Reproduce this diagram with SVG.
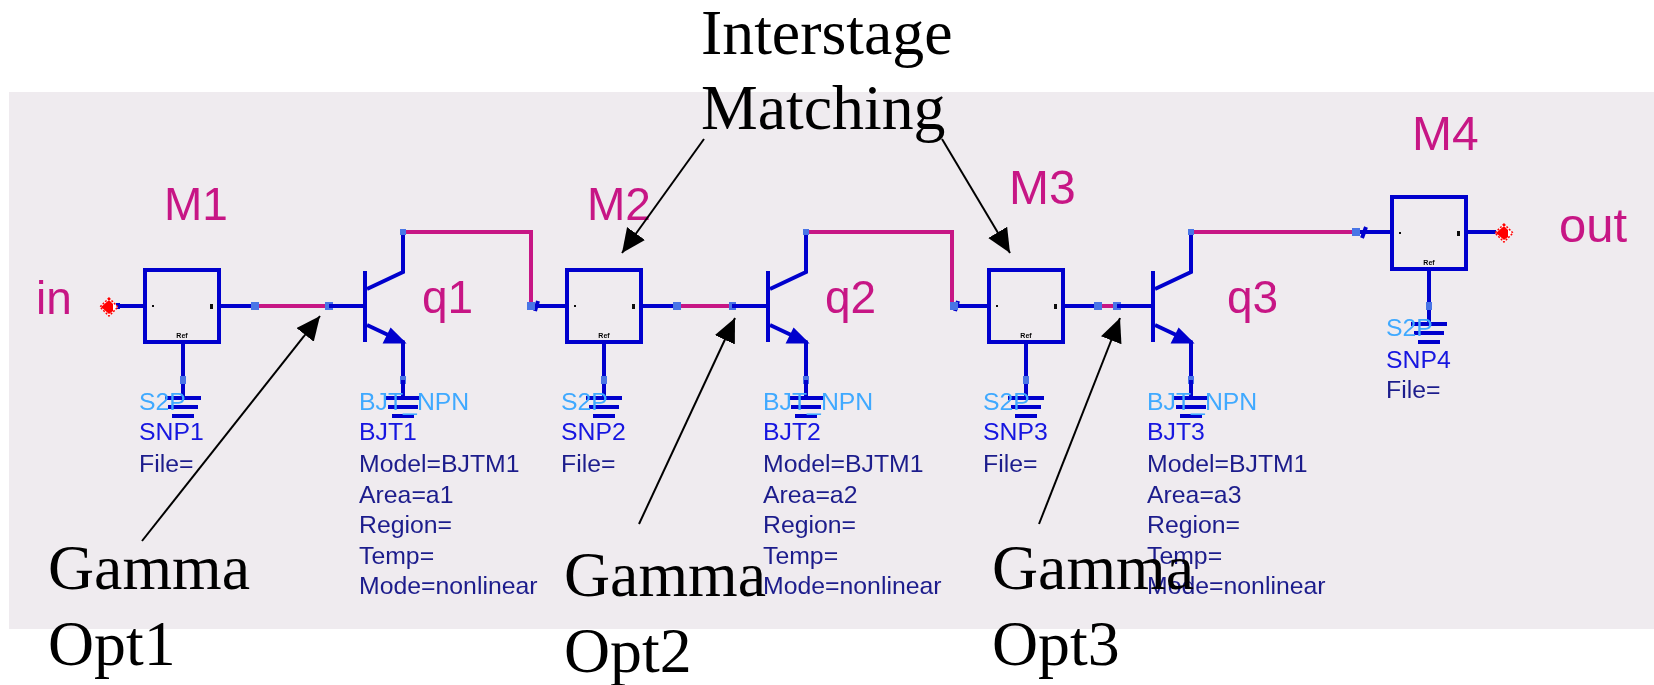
<svg xmlns="http://www.w3.org/2000/svg" width="1654" height="685" viewBox="0 0 1654 685">
<style>
.w{fill:none;stroke:#0000cd;stroke-width:4}
.m{fill:none;stroke:#c71585;stroke-width:4}
.l{fill:none;stroke:#000;stroke-width:2}
.p{fill:#4a74e6}
.big{font:63.8px "Liberation Serif","Times New Roman",serif;fill:#000}
.lab{font:46px "Liberation Sans",Arial,sans-serif;fill:#c71585}
.t{font:24.8px "Liberation Sans",Arial,sans-serif}
.c{fill:#3fa9ff}.n{fill:#1414e0}.d{fill:#1c1c8c}
.r{font:bold 7px "Liberation Sans",Arial,sans-serif;fill:#000}
.soft{filter:url(#soft)}
</style>
<defs>
<filter id="soft" x="-5%" y="-5%" width="110%" height="110%"><feGaussianBlur stdDeviation="0.5"/></filter>
<marker id="ah" markerUnits="userSpaceOnUse" markerWidth="26" markerHeight="26" refX="24" refY="11" orient="auto"><path d="M0 0L24 11L0 22z" fill="#000"/></marker>
<g id="gnd"><path class="w" d="M0 -18V0M-18 0H18M-15 9H15M-11 18H11"/></g>
<g id="box"><rect class="w" x="0" y="0" width="74" height="72"/>
<rect x="7" y="35" width="2" height="2" fill="#111"/><rect x="65" y="34" width="3" height="5" fill="#111"/>
<text class="r" x="37" y="68" text-anchor="middle">Ref</text></g>
<g id="bjt"><path class="w" d="M0 -35V36M2 -17L38 -34V-73M2 19L38 36V73M-36 0H0"/><path d="M38 36L20 36L26 24z" fill="#0000cd" stroke="#0000cd" stroke-width="3"/><rect class="p" x="35" y="-77" width="6" height="6"/><rect class="p" x="35" y="70" width="6" height="8"/></g>
<g id="dia"><path d="M0 -9L9 0L0 9L-9 0z" fill="#fff" stroke="#f00" stroke-width="1.5" stroke-dasharray="2 1.5"/><path d="M0 -7L4 -3V4L0 7L-8 0z" fill="#f00"/></g>
</defs>
<rect x="9" y="92" width="1645" height="537" fill="#efebef"/>

<g class="soft">
<g id="connectors">
<path class="w" d="M118 306H145M219 306H255"/><path class="m" d="M255 306H329"/>
<path class="m" d="M406 232H531V306"/>
<path class="w" d="M535 306H567M641 306H677"/><path class="m" d="M677 306H732"/>
<path class="m" d="M806 232H952V306"/>
<path class="w" d="M957 306H989M1063 306H1098"/><path class="m" d="M1098 306H1117"/>
<path class="m" d="M1190 232H1356"/>
<path class="w" d="M1360 232H1392M1466 232H1496"/>
<path class="w" d="M538 301L535 311M958 301L955 311M1366 227L1362 238M118 303V309"/>
<rect class="p" x="251" y="302" width="8" height="8"/><rect class="p" x="325" y="302" width="8" height="8"/>
<rect class="p" x="527" y="302" width="8" height="8"/><rect class="p" x="673" y="302" width="8" height="8"/>
<rect class="p" x="729" y="302" width="7" height="8"/><rect class="p" x="950" y="302" width="8" height="8"/>
<rect class="p" x="1094" y="302" width="8" height="8"/><rect class="p" x="1113" y="302" width="8" height="8"/>
<rect class="p" x="1352" y="228" width="8" height="8"/>
</g>

<g id="in"><text class="lab" x="36" y="314">in</text><use href="#dia" x="109" y="307"/></g>
<g id="out"><text class="lab" x="1559" y="242" style="font-size:49px">out</text><use href="#dia" x="1504" y="233"/></g>

<g id="M1"><text class="lab" x="164" y="220">M1</text><use href="#box" x="145" y="270"/><path class="w" d="M183 342V380"/><use href="#gnd" x="183" y="398"/><rect class="p" x="180" y="376" width="6" height="8"/>
<text class="t c" x="139" y="410">S2P</text><text class="t n" x="139" y="440">SNP1</text><text class="t d" x="139" y="472">File=</text></g>
<g id="q1"><use href="#bjt" x="365" y="306"/><use href="#gnd" x="403" y="398"/><text class="lab" x="422" y="313">q1</text>
<text class="t c" x="359" y="410">BJT_NPN</text><text class="t n" x="359" y="440">BJT1</text><text class="t d" x="359" y="472">Model=BJTM1</text><text class="t d" x="359" y="503">Area=a1</text><text class="t d" x="359" y="533">Region=</text><text class="t d" x="359" y="564">Temp=</text><text class="t d" x="359" y="594">Mode=nonlinear</text></g>

<g id="M2"><text class="lab" x="587" y="220">M2</text><use href="#box" x="567" y="270"/><path class="w" d="M604 342V380"/><use href="#gnd" x="604" y="398"/><rect class="p" x="601" y="376" width="6" height="8"/>
<text class="t c" x="561" y="410">S2P</text><text class="t n" x="561" y="440">SNP2</text><text class="t d" x="561" y="472">File=</text></g>
<g id="q2"><use href="#bjt" x="768" y="306"/><use href="#gnd" x="806" y="398"/><text class="lab" x="825" y="313">q2</text>
<text class="t c" x="763" y="410">BJT_NPN</text><text class="t n" x="763" y="440">BJT2</text><text class="t d" x="763" y="472">Model=BJTM1</text><text class="t d" x="763" y="503">Area=a2</text><text class="t d" x="763" y="533">Region=</text><text class="t d" x="763" y="564">Temp=</text><text class="t d" x="763" y="594">Mode=nonlinear</text></g>

<g id="M3"><text class="lab" x="1009" y="204" style="font-size:48px">M3</text><use href="#box" x="989" y="270"/><path class="w" d="M1026 342V380"/><use href="#gnd" x="1026" y="398"/><rect class="p" x="1023" y="376" width="6" height="8"/>
<text class="t c" x="983" y="410">S2P</text><text class="t n" x="983" y="440">SNP3</text><text class="t d" x="983" y="472">File=</text></g>
<g id="q3"><use href="#bjt" x="1153" y="306"/><use href="#gnd" x="1191" y="398"/><text class="lab" x="1227" y="313">q3</text>
<text class="t c" x="1147" y="410">BJT_NPN</text><text class="t n" x="1147" y="440">BJT3</text><text class="t d" x="1147" y="472">Model=BJTM1</text><text class="t d" x="1147" y="503">Area=a3</text><text class="t d" x="1147" y="533">Region=</text><text class="t d" x="1147" y="564">Temp=</text><text class="t d" x="1147" y="594">Mode=nonlinear</text></g>

<g id="M4"><text class="lab" x="1412" y="150" style="font-size:48px">M4</text><use href="#box" x="1392" y="197"/><path class="w" d="M1429 269V306"/><use href="#gnd" x="1429" y="324"/><rect class="p" x="1426" y="302" width="6" height="8"/>
<text class="t c" x="1386" y="336">S2P</text><text class="t n" x="1386" y="368">SNP4</text><text class="t d" x="1386" y="398">File=</text></g>
</g>

<g id="annotation-arrows">
<path class="l" d="M142 541L320 316" marker-end="url(#ah)"/>
<path class="l" d="M639 524L735 318" marker-end="url(#ah)"/>
<path class="l" d="M1039 524L1120 318" marker-end="url(#ah)"/>
<path class="l" d="M704 139L622 253" marker-end="url(#ah)"/>
<path class="l" d="M942 139L1010 253" marker-end="url(#ah)"/>
</g>
<g id="annotations">
<text class="big" x="701" y="54">Interstage</text><text class="big" x="701" y="129">Matching</text>
<text class="big" x="48" y="589">Gamma</text><text class="big" x="48" y="665">Opt1</text>
<text class="big" x="564" y="596">Gamma</text><text class="big" x="564" y="672">Opt2</text>
<text class="big" x="992" y="589">Gamma</text><text class="big" x="992" y="665">Opt3</text>
</g>
</svg>
